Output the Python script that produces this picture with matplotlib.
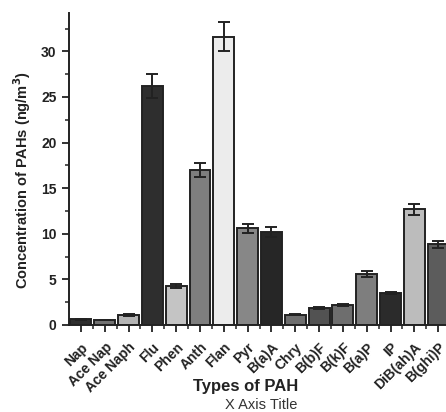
import numpy as np
import matplotlib.pyplot as plt
from matplotlib.ticker import MultipleLocator
from matplotlib.transforms import ScaledTranslation

plt.rcParams['font.family'] = ['Liberation Sans', 'DejaVu Sans']

# PAH concentrations and standard errors
pahs = ['Nap', 'Ace Nap', 'Ace Naph', 'Flu', 'Phen', 'Anth', 'Flan', 'Pyr',
        'B(a)A', 'Chry', 'B(b)F', 'B(k)F', 'B(a)P', 'IP', 'DiB(ah)A', 'B(ghi)P']
conc = [0.65, 0.55, 1.1, 26.2, 4.3, 17.0, 31.6, 10.6,
        10.2, 1.15, 1.85, 2.2, 5.6, 3.55, 12.7, 8.85]
err = [0.05, 0.05, 0.08, 1.3, 0.2, 0.8, 1.6, 0.5,
       0.5, 0.05, 0.07, 0.1, 0.3, 0.12, 0.6, 0.4]
shades = ['#2e2e2e', '#727272', '#b4b4b4', '#2e2e2e', '#c4c4c4', '#7e7e7e',
          '#ececec', '#878787', '#262626', '#6e6e6e', '#525252', '#6e6e6e',
          '#7e7e7e', '#2b2b2b', '#bcbcbc', '#5c5c5c']

W, H = 446, 412
fig = plt.figure(figsize=(W / 100, H / 100), dpi=100)
x0, x1 = 69, 446
y0, y1 = 325, 13
ax = fig.add_axes([x0 / W, 1 - y0 / H, (x1 - x0) / W, (y0 - y1) / H])

x = np.arange(len(pahs))
ax.bar(x, conc, width=0.88, color=shades, edgecolor='#222222', linewidth=1.4,
       yerr=err, error_kw=dict(ecolor='#222222', elinewidth=1.4, capsize=4, capthick=1.4))

ax.set_xlim(-0.5, 15.33)
ax.set_ylim(0, 34.2)
ax.yaxis.set_major_locator(MultipleLocator(5))
ax.yaxis.set_minor_locator(MultipleLocator(2.5))
ax.set_xticks(x)
ax.set_xticks(x[:-1] + 0.5, minor=True)
ax.set_xticklabels(pahs, rotation=45, ha='right', rotation_mode='anchor',
                   fontsize=10, fontweight='bold', color='#222222')
# nudge rotated labels so their ends sit under the ticks
shift = ScaledTranslation(-6 / 100, 0, fig.dpi_scale_trans)
for lab in ax.get_xticklabels():
    lab.set_transform(lab.get_transform() + shift)
for lab in ax.get_yticklabels():
    lab.set_fontweight('bold')
    lab.set_fontsize(10)
    lab.set_color('#222222')

ax.spines['top'].set_visible(False)
ax.spines['right'].set_visible(False)
for s in ('left', 'bottom'):
    ax.spines[s].set_linewidth(1.4)
    ax.spines[s].set_color('#222222')
ax.tick_params(which='major', direction='out', length=5, width=1.3, color='#222222')
ax.tick_params(which='minor', direction='out', length=3, width=1.1, color='#222222')
ax.tick_params(axis='x', which='major', pad=6)
ax.tick_params(axis='y', pad=4)

fig.text(22 / W, 1 - 180 / H, 'Concentration of PAHs (ng/m$^\\mathbf{3}$)', rotation=90,
         ha='center', va='center', fontsize=10.5, fontweight='bold', color='#222222')
fig.text(246 / W, 1 - 386 / H, 'Types of PAH', ha='center', va='center',
         fontsize=12, fontweight='bold', color='#222222')
fig.text(261 / W, 1 - 405 / H, 'X Axis Title', ha='center', va='center',
         fontsize=10.5, color='#333333')

fig.savefig('out.png', dpi=100)
